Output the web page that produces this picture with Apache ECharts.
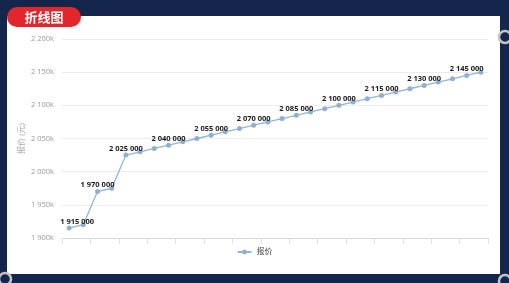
<!DOCTYPE html>
<html>
<head>
<meta charset="utf-8">
<script src="https://cdn.jsdelivr.net/npm/echarts@6/dist/echarts.min.js"></script>
<style>
html,body{margin:0;padding:0;background:#14264b;}
#c{width:509px;height:283px;}
</style>
</head>
<body>
<div id="c"></div>
<script>
var categories = ['1','2','3','4','5','6','7','8','9','10','11','12','13','14','15','16','17','18','19','20','21','22','23','24','25','26','27','28','29','30'];
var prices = [1915000,1920000,1970000,1975000,2025000,2030000,2035000,2040000,2045000,2050000,2055000,2060000,2065000,2070000,2075000,2080000,2085000,2090000,2095000,2100000,2105000,2110000,2115000,2120000,2125000,2130000,2135000,2140000,2145000,2150000];
var labelledIdx = [0,2,4,7,10,13,16,19,22,25,28];
var seriesName = '报价';
var yAxisName = '报价 (元)';
var titleText = '折线图';

function sp(n){ return String(n).replace(/\B(?=(\d{3})+(?!\d))/g,' '); }

var data = prices.map(function(v,i){
  var d = {value:v};
  if (labelledIdx.indexOf(i) >= 0) {
    d.label = {show:true};
    if (i === 0) d.label.offset = [8,0];
  }
  return d;
});

var chart = echarts.init(document.getElementById('c'));
var font = "'Open Sans','Noto Sans CJK SC',sans-serif";
chart.setOption({
  backgroundColor:'#14264b',
  textStyle:{fontFamily:font},
  animation:false,
  grid:{left:62,right:21,top:39,bottom:45},
  legend:{bottom:22,left:'center',itemWidth:14,itemHeight:6,itemGap:5,
    textStyle:{fontSize:8,color:'#444',fontFamily:font},data:[seriesName]},
  xAxis:{type:'category',data:categories,boundaryGap:true,
    axisLine:{lineStyle:{color:'#d6d6d6'}},
    axisTick:{show:true,length:6,lineStyle:{color:'#e0e0e0'}},
    axisLabel:{show:false},splitLine:{show:false}},
  yAxis:{type:'value',min:1900000,max:2200000,interval:50000,
    name:yAxisName,nameLocation:'middle',nameGap:36,nameRotate:90,nameMoveOverlap:false,
    nameTextStyle:{fontSize:8,color:'#aaa'},
    axisLine:{show:false},axisTick:{show:false},
    axisLabel:{fontSize:7.5,color:'#999',margin:8,formatter:function(v){return sp(v/1000)+'k';}},
    splitLine:{lineStyle:{color:'#ececec'}}},
  series:[{name:seriesName,type:'line',data:data,symbol:'circle',symbolSize:5,
    itemStyle:{color:'#8eb1d3'},lineStyle:{color:'#94b4d2',width:1.3},
    label:{show:false,position:'top',distance:0,fontSize:7.5,fontWeight:'bold',color:'#1a1a1a',
      formatter:function(p){return sp(p.value);}}}],
  graphic:{elements:[
    {type:'rect',z:-1,shape:{x:7,y:16,width:493,height:258},style:{fill:'#ffffff'}},
    {type:'rect',z:100,shape:{x:7,y:7,width:74,height:20,r:10},style:{fill:'#e3262b'}},
    {type:'text',z:101,x:44,y:17,style:{text:titleText,fill:'#ffffff',font:"bold 13px 'Noto Sans CJK SC',sans-serif",align:'center',verticalAlign:'middle'}},
    {type:'circle',z:100,shape:{cx:505,cy:37,r:6},style:{fill:'none',stroke:'#c4c4c4',lineWidth:2.5}},
    {type:'circle',z:100,shape:{cx:5,cy:279,r:6},style:{fill:'none',stroke:'#c4c4c4',lineWidth:2.5}},
    {type:'circle',z:100,shape:{cx:505,cy:281,r:6},style:{fill:'none',stroke:'#c4c4c4',lineWidth:2.5}}
  ]}
});
</script>
</body>
</html>
